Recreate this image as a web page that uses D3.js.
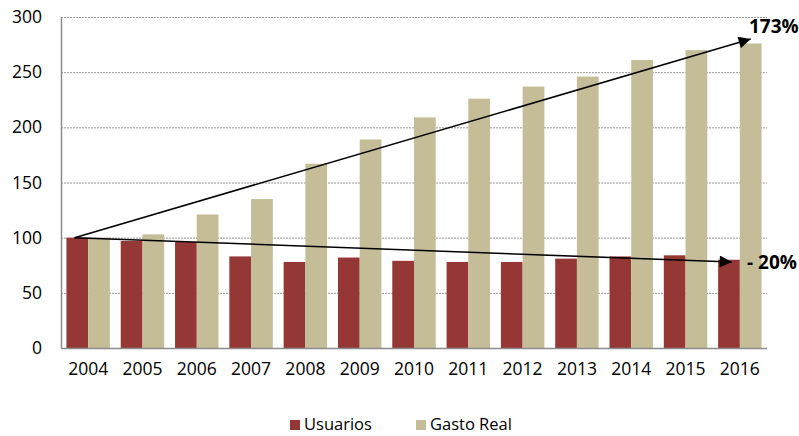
<!DOCTYPE html>
<html><head><meta charset="utf-8">
<script src="https://cdn.jsdelivr.net/npm/d3@7"></script>
<style>body{margin:0;background:#fff}svg{display:block}text{font-family:"Open Sans",sans-serif;fill:#000}</style>
</head><body><svg id="c" width="799" height="436"></svg>
<script>
const years = ["2004","2005","2006","2007","2008","2009","2010","2011","2012","2013","2014","2015","2016"];
const usuarios = [100,97,96,83,78,82,79,78,78,81,83,84,80];
const gastoReal = [100,103,121,135,167,189,209,226,237,246,261,270,276];
const seriesNames = ["Usuarios","Gasto Real"];
const yTicks = [0,50,100,150,200,250,300];
const arrowLabels = ["173%","- 20%"];
const arrowFrom = [100,100];
const arrowTo = [280,78];

const colors = ["#953735","#C4BD97"];
const svg = d3.select("#c");
const L=61,R=767,T=17,B=348;
const x0 = d3.scaleBand().domain(years).range([L,R]);
const x1 = d3.scaleBand().domain(seriesNames).range([0,x0.bandwidth()*0.8]);
const y = d3.scaleLinear().domain([0,300]).range([B,T]);

// grid
svg.append("g").selectAll("line").data(yTicks.filter(d=>d>0)).join("line")
  .attr("x1",L).attr("x2",R).attr("y1",d=>y(d)+0.5).attr("y2",d=>y(d)+0.5)
  .attr("stroke","#999").attr("stroke-dasharray","2,1").attr("stroke-width",1);

const data = [usuarios,gastoReal];
const off = x0.bandwidth()*0.1;
data.forEach((vals,si)=>{
  svg.append("g").selectAll("rect").data(vals).join("rect")
    .attr("x",(d,i)=>x0(years[i])+off+x1(seriesNames[si]))
    .attr("width",x1.bandwidth())
    .attr("y",d=>y(d)).attr("height",d=>B-y(d))
    .attr("fill",colors[si]);
});

// axes
svg.append("line").attr("x1",L+0.5).attr("x2",L+0.5).attr("y1",T).attr("y2",B).attr("stroke","#8c8c8c").attr("stroke-width",1.5);
svg.append("line").attr("x1",L).attr("x2",R).attr("y1",B+0.5).attr("y2",B+0.5).attr("stroke","#8c8c8c").attr("stroke-width",1.5);

const yAxis = svg.append("g").attr("transform",`translate(${L},0)`).call(d3.axisLeft(y).tickValues(yTicks).tickSize(0).tickPadding(19));
yAxis.select(".domain").remove();
yAxis.selectAll("text").attr("font-size",17.5).attr("font-family","'Open Sans',sans-serif").attr("fill","#111");
const xAxis = svg.append("g").attr("transform",`translate(0,${B})`).call(d3.axisBottom(x0).tickSize(0).tickPadding(15));
xAxis.select(".domain").remove();
xAxis.selectAll("text").attr("font-size",17.5).attr("font-family","'Open Sans',sans-serif").attr("fill","#111");

// arrows
const defs = svg.append("defs");
defs.append("marker").attr("id","ah").attr("viewBox","0 0 10 10").attr("refX",10).attr("refY",5)
  .attr("markerWidth",16).attr("markerHeight",12).attr("markerUnits","userSpaceOnUse")
  .attr("orient","auto").append("path").attr("d","M0,0L10,5L0,10Z").attr("fill","#000");
const xs = x0(years[0]) + x0.bandwidth()*0.25;
const xe = [x0(years[12]) + x0.bandwidth()*0.7, x0(years[12]) + x0.bandwidth()*0.35];
arrowLabels.forEach((lab,i)=>{
  svg.append("line").attr("x1",xs).attr("y1",y(arrowFrom[i])).attr("x2",xe[i]).attr("y2",y(arrowTo[i]))
    .attr("stroke","#000").attr("stroke-width",1.5).attr("marker-end","url(#ah)");
});
svg.append("text").attr("x",749).attr("y",y(arrowTo[0])-6).attr("font-size",19).attr("font-weight","bold").text(arrowLabels[0]);
svg.append("text").attr("x",747).attr("y",y(arrowTo[1])+7).attr("font-size",19).attr("font-weight","bold").text(arrowLabels[1]);

// legend
const lx=[290,416];
seriesNames.forEach((n,i)=>{
  svg.append("rect").attr("x",lx[i]).attr("y",420).attr("width",10).attr("height",10).attr("fill",colors[i]);
  svg.append("text").attr("x",lx[i]+14).attr("y",430).attr("font-size",16.5).attr("fill","#111").text(n);
});
</script></body></html>
